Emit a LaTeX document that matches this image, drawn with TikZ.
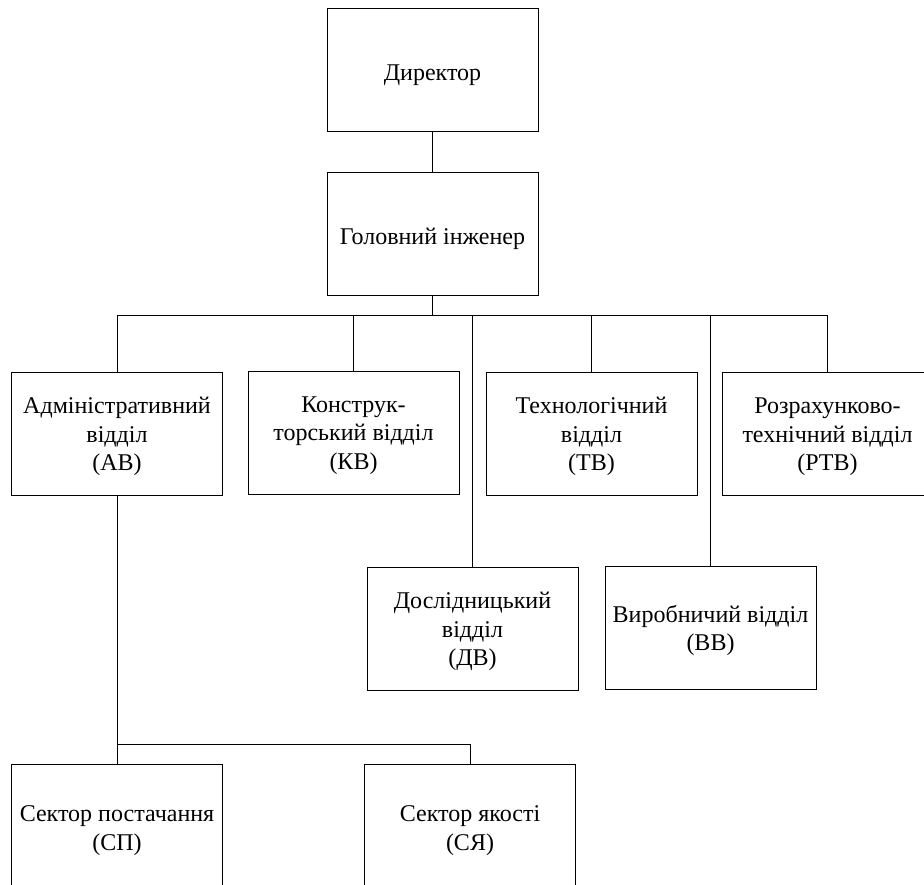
\documentclass[tikz,border=0pt]{standalone}
\usepackage{fontspec}
\setmainfont{Liberation Serif}
\newcommand\bxtxt[2][3.5pt]{\raisebox{-#1}[\height][\depth]{\begin{tabular}{@{}c@{}}#2\end{tabular}}}
\begin{document}
\begin{tikzpicture}[x=1pt,y=-1pt,
  box/.style={draw, line width=0.8pt, minimum width=211pt, minimum height=123pt,
    inner sep=0pt, align=center, font=\fontsize{24}{28.5}\selectfont},
  link/.style={line width=0.8pt}]
\useasboundingbox (0,0) rectangle (924,885);
\clip (0,0) rectangle (924,885);
\node[box] (dir) at (432.5,69.5) {\bxtxt[5pt]{Директор}};
\node[box] (eng) at (432.5,233.5) {\bxtxt[5.5pt]{Головний інженер}};
\node[box] (ab)  at (117,434) {\bxtxt[2.5pt]{Адміністративний\\відділ\\(АВ)}};
\node[box] (kv)  at (353.5,432.5) {\bxtxt[2.5pt]{Конструк-\\торський відділ\\(КВ)}};
\node[box] (tv)  at (591.5,434) {\bxtxt[2.5pt]{Технологічний\\відділ\\(ТВ)}};
\node[box] (rtv) at (827.5,434) {\bxtxt[2.5pt]{Розрахунково-\\технічний відділ\\(РТВ)}};
\node[box] (dv)  at (472.5,629) {\bxtxt[2.5pt]{Дослідницький\\відділ\\(ДВ)}};
\node[box] (vv)  at (710.5,628) {\bxtxt[3pt]{Виробничий відділ\\(ВВ)}};
\node[box, minimum height=127pt] (sp)  at (117,827.5) {\bxtxt[3pt]{Сектор постачання\\(СП)}};
\node[box, minimum height=127pt] (sya) at (470,827.5) {\bxtxt[3pt]{Сектор якості\\(СЯ)}};
\coordinate (bus) at (0,315);
\coordinate (bus2) at (0,744);
\draw[link] (dir.south) -- (eng.north);
\draw[link] (eng.south) -- (eng.south |- bus);
\draw[link] (ab.north) -- (ab.north |- bus) -- (rtv.north |- bus) -- (rtv.north);
\draw[link] (kv.north) -- (kv.north |- bus);
\draw[link] (dv.north) -- (dv.north |- bus);
\draw[link] (tv.north) -- (tv.north |- bus);
\draw[link] (vv.north) -- (vv.north |- bus);
\draw[link] (ab.south) -- (sp.north);
\draw[link] (ab.south |- bus2) -- (sya.north |- bus2) -- (sya.north);
\end{tikzpicture}
\end{document}
